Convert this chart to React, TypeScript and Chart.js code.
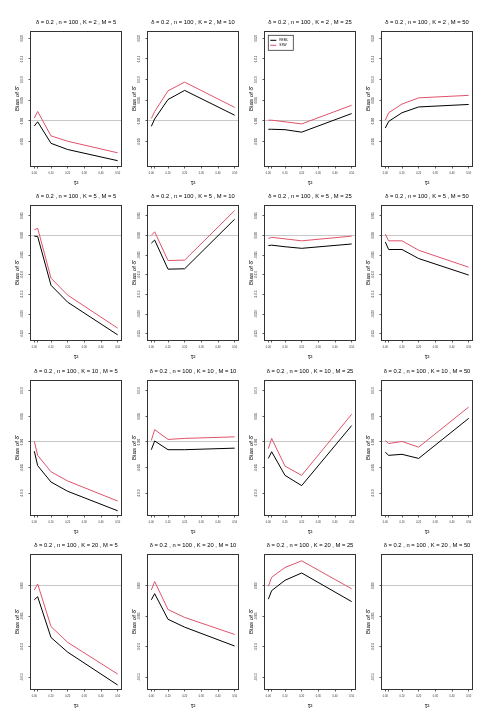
import React, { useEffect, useRef } from 'react';
import { Chart, registerables } from 'chart.js';
Chart.register(...registerables);

const FONT = "'Liberation Sans', Arial, Helvetica, sans-serif";
const PINK = '#DF536B';

// x values (tau^2) and axis ticks
const tau2 = [0, 0.02, 0.1, 0.2, 0.5];
const xTicks = [0, 0.02, 0.1, 0.2, 0.3, 0.4, 0.5];
const Ks = [2, 5, 10, 20];
const Ms = [5, 10, 25, 50];

// Bias of delta-hat, REML and SSW, per K (rows) and M (columns)
const remlK2 = [
  [-0.0012, -0.0002, -0.0054, -0.0069, -0.0096],
  [-0.0013, 0.0005, 0.0052, 0.0074, 0.0014],
  [-0.002, -0.002, -0.0021, -0.0027, 0.0018],
  [-0.0017, -0.0001, 0.002, 0.0034, 0.004],
];
const sswK2 = [
  [0.0007, 0.0023, -0.0036, -0.0049, -0.0077],
  [0.0006, 0.0023, 0.0073, 0.0094, 0.0033],
  [0.0002, 0.0002, -0.0002, -0.0007, 0.0038],
  [0.0002, 0.002, 0.0041, 0.0056, 0.0062],
];
const remlK5 = [
  [-0.0002, -0.0003, -0.0127, -0.017, -0.0253],
  [-0.002, -0.0012, -0.0086, -0.0085, 0.0041],
  [-0.0026, -0.0025, -0.0029, -0.0033, -0.0022],
  [-0.0017, -0.0036, -0.0036, -0.0059, -0.0101],
];
const sswK5 = [
  [0.0014, 0.0018, -0.0109, -0.0152, -0.0236],
  [0.0, 0.0009, -0.0064, -0.0063, 0.0063],
  [-0.0008, -0.0005, -0.0009, -0.0014, -0.0002],
  [0.0003, -0.0014, -0.0014, -0.0038, -0.0081],
];
const remlK10 = [
  [-0.0018, -0.0046, -0.0078, -0.0096, -0.0134],
  [-0.0015, 0.0002, -0.0015, -0.0015, -0.0012],
  [-0.0032, -0.0019, -0.0065, -0.0085, 0.0032],
  [-0.002, -0.0026, -0.0024, -0.0032, 0.0046],
];
const sswK10 = [
  [0.0001, -0.0026, -0.0058, -0.0076, -0.0115],
  [0.0003, 0.0024, 0.0005, 0.0007, 0.001],
  [-0.0013, 0.0007, -0.0047, -0.0065, 0.0054],
  [0.0003, -0.0003, 0.0001, -0.001, 0.0068],
];
const remlK20 = [
  [-0.0023, -0.0018, -0.0085, -0.0109, -0.0163],
  [-0.0023, -0.0013, -0.0055, -0.0068, -0.0099],
  [-0.0022, -0.0008, 0.0009, 0.0021, -0.0026],
  [],
];
const sswK20 = [
  [-0.0007, 0.0003, -0.0067, -0.0093, -0.0145],
  [-0.0007, 0.0007, -0.0039, -0.0052, -0.008],
  [-0.0001, 0.0014, 0.003, 0.0041, -0.0005],
  [],
];

// y-axis ticks and limits per row
const yTicksK2 = [-0.005, 0, 0.005, 0.01, 0.015, 0.02];
const yTicksK5 = [-0.025, -0.02, -0.015, -0.01, -0.005, 0, 0.005];
const yTicksK10 = [-0.01, -0.005, 0, 0.005, 0.01];
const yTicksK20 = [-0.015, -0.01, -0.005, 0];
const yLimK2 = [-0.010887, 0.021532];
const yLimK5 = [-0.02661, 0.007458];
const yLimK10 = [-0.01422, 0.01188];
const yLimK20 = [-0.016957, 0.005054];

const remlRows = [remlK2, remlK5, remlK10, remlK20];
const sswRows = [sswK2, sswK5, sswK10, sswK20];
const yTickRows = [yTicksK2, yTicksK5, yTicksK10, yTicksK20];
const yLimRows = [yLimK2, yLimK5, yLimK10, yLimK20];

const COL_LEFT = [31, 148, 265, 382];
const ROW_TOP = [32, 206, 381, 555];
const CW = 124;
const CH = 188;

function Panel({ r, c }: { r: number; c: number }) {
  const ref = useRef<HTMLCanvasElement>(null);
  useEffect(() => {
    const reml = remlRows[r][c];
    const ssw = sswRows[r][c];
    const yTicks = yTickRows[r];
    const yLim = yLimRows[r];
    const title = `δ = 0.2 , n = 100 , K = ${Ks[r]} , M = ${Ms[c]}`;
    const showLegend = r === 0 && c === 2;

    const boxPlugin = {
      id: 'boxAndTitle',
      afterDraw(chart: any) {
        const { ctx, chartArea } = chart;
        const { left, right, top, bottom } = chartArea;
        ctx.save();
        ctx.strokeStyle = '#333';
        ctx.lineWidth = 1;
        ctx.strokeRect(left - 0.5, top - 0.5, right - left + 1, bottom - top + 1);
        ctx.font = `5.8px ${FONT}`;
        ctx.fillStyle = '#000';
        ctx.textAlign = 'center';
        ctx.textBaseline = 'middle';
        ctx.fillText(title, (left + right) / 2, top - 10);
        if (showLegend) {
          const lx = left + 3.3;
          const ly = top + 3.3;
          ctx.lineWidth = 0.8;
          ctx.strokeStyle = '#333';
          ctx.strokeRect(lx, ly, 25, 15);
          ctx.lineWidth = 1;
          const items: [string, string][] = [['REML', '#000'], ['SSW', PINK]];
          items.forEach(([label, col], i) => {
            const yy = ly + 5 + i * 5;
            ctx.strokeStyle = col;
            ctx.beginPath();
            ctx.moveTo(lx + 2, yy);
            ctx.lineTo(lx + 8, yy);
            ctx.stroke();
            ctx.fillStyle = '#000';
            ctx.font = `3.2px ${FONT}`;
            ctx.textAlign = 'left';
            ctx.fillText(label, lx + 11, yy);
          });
        }
        ctx.restore();
      },
    };

    const chart = new Chart(ref.current as HTMLCanvasElement, {
      type: 'line',
      data: {
        datasets: [
          {
            label: 'REML',
            data: reml.map((y, i) => ({ x: tau2[i], y })),
            borderColor: '#000',
            borderWidth: 1,
            pointRadius: 0,
            tension: 0,
            fill: false,
          },
          {
            label: 'SSW',
            data: ssw.map((y, i) => ({ x: tau2[i], y })),
            borderColor: PINK,
            borderWidth: 1,
            pointRadius: 0,
            tension: 0,
            fill: false,
          },
        ],
      },
      options: {
        animation: false,
        responsive: false,
        devicePixelRatio: 1,
        events: [],
        layout: { padding: { top: 32, right: 3, bottom: 0, left: 0 } },
        plugins: { legend: { display: false }, tooltip: { enabled: false }, title: { display: false } },
        scales: {
          x: {
            type: 'linear',
            min: -0.02,
            max: 0.52,
            bounds: 'data',
            afterBuildTicks: (s: any) => {
              s.ticks = xTicks.map((v) => ({ value: v }));
            },
            afterFit: (s: any) => {
              s.height = 22;
            },
            grid: { drawOnChartArea: false, drawTicks: true, tickLength: 2.5, tickColor: '#333', tickWidth: 0.8 },
            border: { display: false },
            ticks: {
              autoSkip: false,
              maxRotation: 0,
              minRotation: 0,
              padding: 3,
              color: '#333',
              font: { size: 2.6, family: FONT },
              callback: (v: any) => (v === 0.02 ? '' : Number(v).toFixed(2)),
            },
            title: { display: true, text: 'τ²', color: '#000', font: { size: 6.5, family: FONT }, padding: { top: 0, bottom: 0.8 } },
          },
          y: {
            type: 'linear',
            min: yLim[0],
            max: yLim[1],
            bounds: 'data',
            afterBuildTicks: (s: any) => {
              s.ticks = yTicks.map((v) => ({ value: v }));
            },
            afterFit: (s: any) => {
              s.width = 31;
            },
            grid: {
              drawOnChartArea: true,
              drawTicks: true,
              tickLength: 2.5,
              tickColor: '#333',
              tickWidth: 0.8,
              lineWidth: 1,
              color: (ctx: any) => (ctx.tick && ctx.tick.value === 0 ? '#c8c8c8' : 'rgba(0,0,0,0)'),
            },
            border: { display: false },
            ticks: {
              autoSkip: false,
              minRotation: 90,
              maxRotation: 90,
              crossAlign: 'center',
              padding: 3,
              color: '#333',
              font: { size: 2.6, family: FONT },
              callback: (v: any) => Number(v).toFixed(3),
            },
            title: { display: true, text: 'Bias of δ̂', color: '#000', font: { size: 6.2, family: FONT }, padding: { top: 13.6, bottom: 0 } },
          },
        },
      },
      plugins: [boxPlugin],
    } as any);
    return () => chart.destroy();
  }, [r, c]);
  return (
    <canvas
      ref={ref}
      width={CW}
      height={CH}
      style={{ position: 'absolute', left: COL_LEFT[c] - 31, top: ROW_TOP[r] - 32, width: CW, height: CH }}
    />
  );
}

export default function App() {
  const panels: React.ReactNode[] = [];
  for (let r = 0; r < 4; r++) for (let c = 0; c < 4; c++) panels.push(<Panel key={`${r}-${c}`} r={r} c={c} />);
  return (
    <div style={{ position: 'absolute', left: 0, top: 0, width: 495, height: 726, background: '#fff', overflow: 'hidden' }}>
      {panels}
    </div>
  );
}
